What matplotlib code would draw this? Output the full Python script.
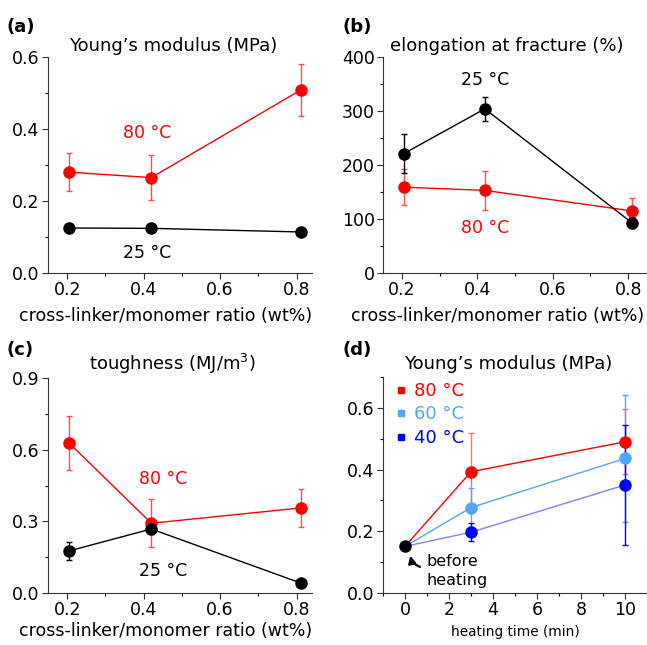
import matplotlib
matplotlib.use("Agg")
import matplotlib.pyplot as plt
from matplotlib.ticker import MultipleLocator

plt.rcParams["font.family"] = ["DejaVu Sans"]

# data
ratio = [0.205, 0.42, 0.81]

young_80 = [0.28, 0.265, 0.508]
young_80_err = [0.052, 0.063, 0.072]
young_25 = [0.125, 0.124, 0.114]
young_25_err = [0.004, 0.004, 0.004]

elong_25 = [221, 304, 93]
elong_25_err = [36, 22, 10]
elong_80 = [159, 153, 115]
elong_80_err = [34, 36, 23]

tough_80 = [0.628, 0.292, 0.356]
tough_80_err = [0.112, 0.1, 0.078]
tough_25 = [0.176, 0.268, 0.042]
tough_25_err = [0.038, 0.02, 0.005]

heat_time = [0, 3, 10]
before = 0.151
heat_80 = [0.393, 0.49]
heat_80_err = [0.127, 0.105]
heat_60 = [0.277, 0.436]
heat_60_err = [0.062, 0.205]
heat_40 = [0.197, 0.35]
heat_40_err = [0.03, 0.196]

RED = "#ff0000"
LBLUE = "#55a5ff"
BLUE = "#0000ff"

fig = plt.figure(figsize=(6.47, 6.45), dpi=100)
W, H = 647, 645


def make_ax(l, t, r, b):
    return fig.add_axes([l / W, 1 - b / H, (r - l) / W, (b - t) / H])


def ftext(x, y, s, **kw):
    # place text at pixel position (from top-left)
    fig.text(x / W, 1 - y / H, s, ha="center", va="center", **kw)


axes = [make_ax(48, 57, 312, 273), make_ax(383, 57, 647, 273),
        make_ax(48, 378, 312, 593), make_ax(383, 377, 647, 593)]

for ax in axes:
    ax.spines["top"].set_visible(False)
    ax.spines["right"].set_visible(False)
    ax.spines["left"].set_color("#333333")
    ax.spines["bottom"].set_color("#333333")
    ax.tick_params(direction="out", labelsize=12.5, length=4, width=0.8, pad=2,
                   color="#333333")
    ax.tick_params(which="minor", length=2.5, width=0.8)

ms = 8
ekw = dict(capsize=2.5, elinewidth=1, capthick=1, markersize=ms, linewidth=1)

# (a)
ax = axes[0]
ax.errorbar(ratio, young_25, yerr=young_25_err, color="black", marker="o", ecolor="black", **ekw)
ax.errorbar(ratio, young_80, yerr=young_80_err, color=RED, marker="o", ecolor="#ff5050", **ekw)
ax.set_ylim(0, 0.6)
ax.yaxis.set_major_locator(MultipleLocator(0.2))
ax.yaxis.set_minor_locator(MultipleLocator(0.1))
ax.text(0.41, 0.39, "80 °C", color=RED, fontsize=12.5, ha="center", va="center")
ax.text(0.41, 0.056, "25 °C", color="black", fontsize=12.5, ha="center", va="center")

# (b)
ax = axes[1]
ax.errorbar(ratio, elong_80, yerr=elong_80_err, color=RED, marker="o", ecolor="#ff5050", **ekw)
ax.errorbar(ratio, elong_25, yerr=elong_25_err, color="black", marker="o", ecolor="black", **ekw)
ax.set_ylim(0, 400)
ax.yaxis.set_major_locator(MultipleLocator(100))
ax.yaxis.set_minor_locator(MultipleLocator(50))
ax.text(0.42, 358, "25 °C", color="black", fontsize=12.5, ha="center", va="center")
ax.text(0.42, 83, "80 °C", color=RED, fontsize=12.5, ha="center", va="center")

# (c)
ax = axes[2]
ax.errorbar(ratio, tough_80, yerr=tough_80_err, color=RED, marker="o", ecolor="#ff5050", **ekw)
ax.errorbar(ratio, tough_25, yerr=tough_25_err, color="black", marker="o", ecolor="black", **ekw)
ax.set_ylim(0, 0.9)
ax.yaxis.set_major_locator(MultipleLocator(0.3))
ax.yaxis.set_minor_locator(MultipleLocator(0.15))
ax.text(0.45, 0.477, "80 °C", color=RED, fontsize=12.5, ha="center", va="center")
ax.text(0.45, 0.091, "25 °C", color="black", fontsize=12.5, ha="center", va="center")

for ax in axes[:3]:
    ax.set_xlim(0.15, 0.85 if ax is axes[1] else 0.84)
    ax.xaxis.set_minor_locator(MultipleLocator(0.1))
    ax.set_xticks([0.2, 0.4, 0.6, 0.8])

# (d)
ax = axes[3]
series = [(heat_80, heat_80_err, RED, RED, "#ff7070", "80 °C"),
          (heat_60, heat_60_err, LBLUE, LBLUE, LBLUE, "60 °C"),
          (heat_40, heat_40_err, BLUE, "#8080ff", BLUE, "40 °C")]
for vals, errs, c, lc, ec, lab in series:
    ax.plot(heat_time, [before] + vals, color=lc, linewidth=1, zorder=2)
    ax.errorbar(heat_time[1:], vals, yerr=errs, fmt="o", color=c, ecolor=ec,
                markersize=ms, capsize=2.5, elinewidth=1, capthick=1, zorder=3)
    ax.plot([], [], "s", color=c, markersize=4, label=lab)
ax.plot(heat_time[0], before, "o", color="black", markersize=ms, zorder=4)
leg = ax.legend(loc="upper left", frameon=False, fontsize=13, handlelength=0.6,
                handletextpad=0.4, labelspacing=0.3, borderaxespad=0.3,
                bbox_to_anchor=(0.0, 1.035))
for txt, (_, _, c, _, _, _) in zip(leg.get_texts(), series):
    txt.set_color(c)
ax.set_xlim(-1, 11)
ax.set_ylim(0, 0.7)
ax.xaxis.set_major_locator(MultipleLocator(2))
ax.xaxis.set_minor_locator(MultipleLocator(1))
ax.yaxis.set_major_locator(MultipleLocator(0.2))
ax.yaxis.set_minor_locator(MultipleLocator(0.1))
ax.annotate("", xy=(0.22, 0.13), xytext=(0.8, 0.082),
            arrowprops=dict(arrowstyle="-|>", color="black", lw=1.6,
                            connectionstyle="arc3,rad=-0.35", mutation_scale=11))
ax.text(1.0, 0.072, "before\nheating", fontsize=11.5, ha="left", va="center",
        linespacing=1.3)

# titles
ftext(173, 46, "Young’s modulus (MPa)", fontsize=13)
ftext(507, 46, "elongation at fracture (%)", fontsize=13)
ftext(172, 364, "toughness (MJ/m$^3$)", fontsize=13)
ftext(508, 364, "Young’s modulus (MPa)", fontsize=13)

# axis labels
ftext(166, 316, "cross-linker/monomer ratio (wt%)", fontsize=12.5)
ftext(498, 316, "cross-linker/monomer ratio (wt%)", fontsize=12.5)
ftext(166, 631, "cross-linker/monomer ratio (wt%)", fontsize=12.5)
ftext(515, 632, "heating time (min)", fontsize=9.8)

# panel labels
for lab, x, y in [("(a)", 7, 27), ("(b)", 342, 27), ("(c)", 7, 350), ("(d)", 342, 350)]:
    fig.text(x / W, 1 - y / H, lab, fontsize=13, fontweight="bold", ha="left", va="center")

fig.savefig("out.png", dpi=100)
